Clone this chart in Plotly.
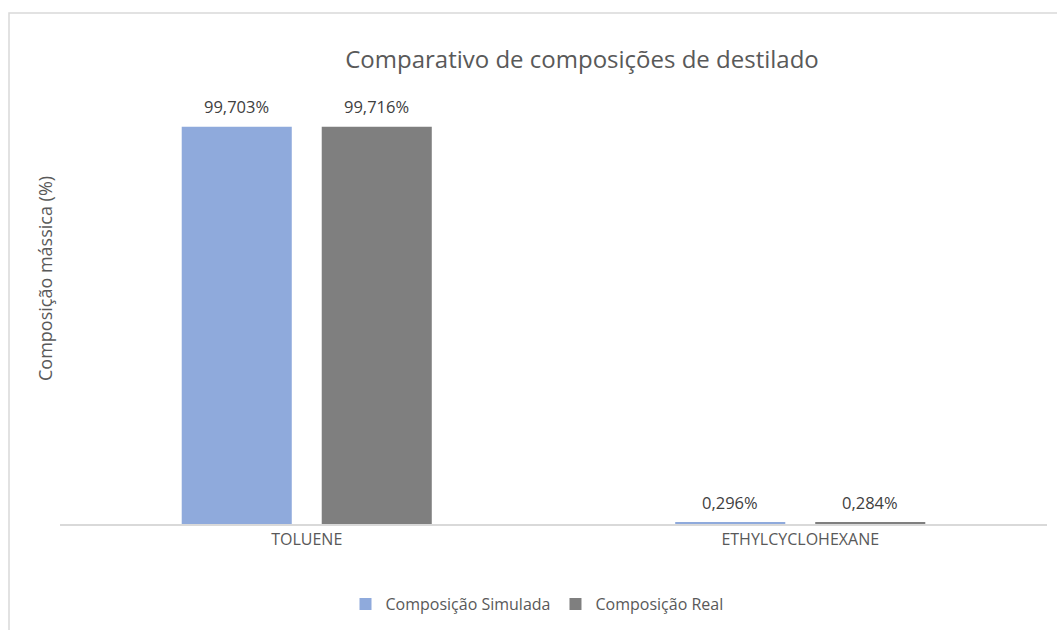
import plotly.graph_objects as go

categories = ["TOLUENE", "ETHYLCYCLOHEXANE"]
series_names = ["Composição Simulada", "Composição Real"]
simulada = [99.703, 0.296]
real = [99.716, 0.284]
labels_simulada = ["99,703%", "0,296%"]
labels_real = ["99,716%", "0,284%"]
colors = ["#8FAADC", "#7F7F7F"]

W, H = 1057, 630
L, R, T, B = 60, 10, 46, 106
plot_w = W - L - R
plot_h = H - T - B

def px_x(px):
    return (px - L) / plot_w

def px_y(py):
    return (H - B - py) / plot_h

BARGAP = 0.4326
GROUPGAP = 0.214
cat_w = plot_w / len(categories)
slot = cat_w * (1 - BARGAP) / 2

fig = go.Figure()
for name, vals, col in zip(series_names, [simulada, real], colors):
    fig.add_trace(go.Bar(x=categories, y=vals, name=name, marker_color=col,
                         marker_line_width=0))

annotations = []
for i, (vals, labs) in enumerate([(simulada, labels_simulada), (real, labels_real)]):
    shift = (i - 0.5) * slot
    for c, v, t in zip(categories, vals, labs):
        annotations.append(dict(x=c, y=v, text=t, showarrow=False, xshift=shift,
                                yshift=7, yanchor="bottom", xanchor="center",
                                font=dict(family="Open Sans", size=16.5, color="#404040")))

annotations.append(dict(xref="paper", yref="paper", x=px_x(45), y=px_y(279),
                        xanchor="center", yanchor="middle",
                        text="Composição mássica (%)", textangle=-90, showarrow=False,
                        font=dict(family="Open Sans", size=18, color="#595959")))

fig.update_layout(
    width=W, height=H,
    margin=dict(l=L, r=R, t=T, b=B),
    paper_bgcolor="white", plot_bgcolor="white",
    barmode="group", bargap=BARGAP, bargroupgap=GROUPGAP,
    title=dict(text="Comparativo de composições de destilado", xref="container",
               yref="container", x=582 / W, y=1 - 60 / H, xanchor="center",
               yanchor="middle", font=dict(family="Open Sans", size=24, color="#595959")),
    xaxis=dict(showgrid=False, showline=True, linecolor="#D9D9D9", linewidth=1.5,
               ticks="", tickfont=dict(family="Open Sans", size=16, color="#595959")),
    yaxis=dict(range=[0, 120], visible=False, showgrid=False, zeroline=False),
    legend=dict(orientation="h", xref="container", yref="container",
                x=537 / W, y=1 - 604 / H, xanchor="center", yanchor="middle",
                font=dict(family="Open Sans", size=16, color="#595959")),
    annotations=annotations,
    shapes=[dict(type="rect", xref="paper", yref="paper", x0=px_x(9), x1=px_x(1200),
                 y0=px_y(800), y1=px_y(13), line=dict(color="#D9D9D9", width=1.5),
                 fillcolor="rgba(0,0,0,0)", layer="below")],
    font=dict(family="Open Sans"),
)

fig.write_html("out.html")
